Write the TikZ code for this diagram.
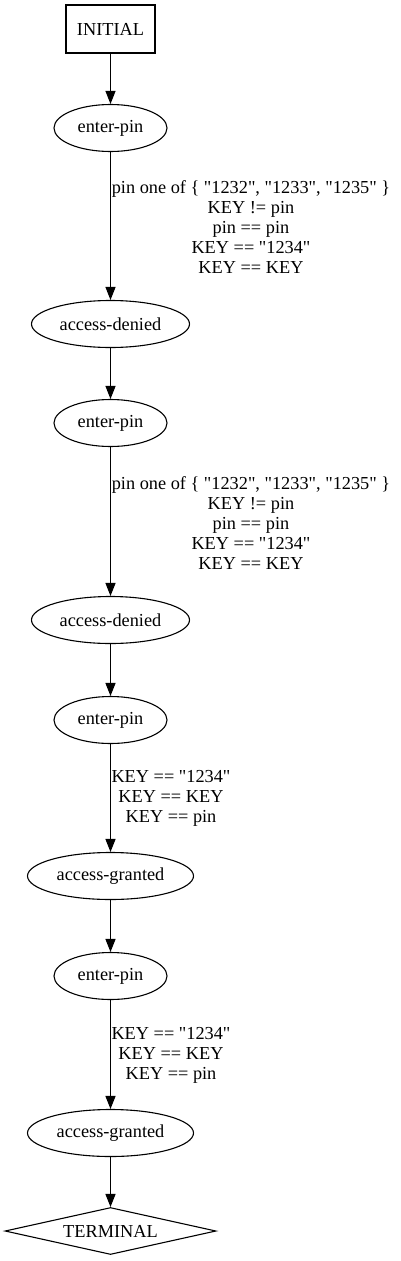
\documentclass[tikz,border=0pt]{standalone}
\usepackage{fontspec}
\setmainfont{Liberation Serif}[Ligatures=TeXOff]
\usetikzlibrary{shapes.geometric,arrows.meta}
\begin{document}
\begin{tikzpicture}[x=1pt,y=-1pt,
  every node/.style={font=\fontsize{18.3}{20}\selectfont},
  ell/.style={draw,ellipse,line width=1.1pt,inner sep=0pt,minimum height=47pt},
  box/.style={draw,rectangle,line width=1.1pt,inner sep=0pt,minimum width=89pt,minimum height=48pt},
  term/.style={draw,diamond,aspect=4.49,line width=1.1pt,inner sep=0pt,minimum width=211pt,minimum height=47pt},
  lbl/.style={align=center,inner sep=0pt},
  arr/.style={line width=1.2pt,-{Triangle[length=13pt,width=10pt]}}]
\useasboundingbox (0,0) rectangle (400,1261);
\node[box] (init) at (110.5,29) {\makebox[0pt]{INITIAL}};
\node[ell,minimum width=113pt] (ep1) at (110.5,128) {\makebox[0pt]{enter-pin}};
\node[ell,minimum width=158pt] (ad1) at (110.5,324) {\makebox[0pt]{access-denied}};
\node[ell,minimum width=113pt] (ep2) at (110.5,423) {\makebox[0pt]{enter-pin}};
\node[ell,minimum width=158pt] (ad2) at (110.5,620) {\makebox[0pt]{access-denied}};
\node[ell,minimum width=113pt] (ep3) at (110.5,720) {\makebox[0pt]{enter-pin}};
\node[ell,minimum width=166pt] (ag1) at (110.5,876) {\makebox[0pt]{access-granted}};
\node[ell,minimum width=113pt] (ep4) at (110.5,976) {\makebox[0pt]{enter-pin}};
\node[ell,minimum width=166pt] (ag2) at (110.5,1133) {\makebox[0pt]{access-granted}};
\node[term] (term) at (110.5,1231) {\makebox[0pt]{TERMINAL}};
\node[lbl] (l1) at (251,227) {pin one of \{ "1232", "1233", "1235" \}\\KEY != pin\\pin == pin\\KEY == "1234"\\KEY == KEY};
\node[lbl] (l2) at (251,523) {pin one of \{ "1232", "1233", "1235" \}\\KEY != pin\\pin == pin\\KEY == "1234"\\KEY == KEY};
\node[lbl] (l3) at (171,798) {KEY == "1234"\\KEY == KEY\\KEY == pin};
\node[lbl] (l4) at (171,1055) {KEY == "1234"\\KEY == KEY\\KEY == pin};
\draw[arr] (init) -- (ep1);
\draw[arr] (ep1) -- (ad1);
\draw[arr] (ad1) -- (ep2);
\draw[arr] (ep2) -- (ad2);
\draw[arr] (ad2) -- (ep3);
\draw[arr] (ep3) -- (ag1);
\draw[arr] (ag1) -- (ep4);
\draw[arr] (ep4) -- (ag2);
\draw[arr] (ag2) -- (term);
\end{tikzpicture}
\end{document}
